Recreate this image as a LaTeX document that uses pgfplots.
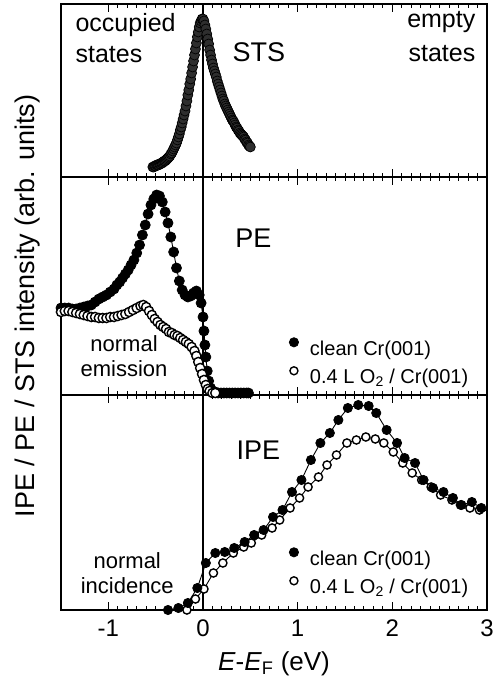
\documentclass[border=0pt]{standalone}
\usepackage{fontspec}
\setmainfont{Liberation Sans}
\usepackage{pgfplots}
\pgfplotsset{compat=1.18}
\newcommand{\fsz}[1]{\fontsize{#1}{#1}\selectfont}
\begin{document}
\begin{tikzpicture}
\pgfplotsset{
  panel/.style={
    scale only axis, width=426bp, xmin=-1.5, xmax=3, ymin=0,
    xtick={-1,0,1,2,3}, minor x tick num=9, ytick=\empty,
    tick align=inside, major tick length=8bp, minor tick length=4bp,
    axis line style={line width=1.4bp},
    tick style={black, line width=1bp},
    /pgf/number format/assume math mode=true,
    ticklabel style={font=\fsz{24bp}},
    legend cell align=left,
  },
  filled/.style={black, line width=0.9bp, mark=*, mark size=#1, mark options={fill=black, draw=black, line width=0.8bp}},
  open/.style={black, line width=0.9bp, mark=*, mark size=#1, mark options={fill=white, draw=black, line width=1.4bp}},
  zeroline/.style={black, line width=1.2bp, no marks, forget plot},
  mylegend/.style={
    legend style={draw=none, fill=none, font=\fsz{20bp}, inner sep=0pt,
      nodes={inner sep=1bp}, row sep=9bp, column sep=7bp},
    legend image code/.code={\path[draw=none] (0bp,0bp) -- (12bp,0bp); \draw[##1] plot coordinates {(4bp,6.5bp)};},
  },
}
\useasboundingbox (-61bp,-71bp) rectangle (438bp,610bp);

% ---------- bottom: IPE ----------
\begin{axis}[panel, at={(0,0)}, anchor=south west, height=215bp, ymax=215,
  xticklabels={-1,0,1,2,3},
  xticklabel style={yshift=-6bp},
  xlabel={\textit{E}-\textit{E}\textsubscript{F} (eV)},
  xlabel style={font=\fsz{26bp}, yshift=-8bp},
  mylegend, legend style={at={(axis cs:0.91,38)}, anchor=west}]
\addlegendimage{only marks, mark=*, mark size=4.6bp, mark options={fill=black, draw=black, line width=0.8bp}}
\addlegendentry{clean Cr(001)}
\addlegendimage{only marks, mark=*, mark size=4.0bp, mark options={fill=white, draw=black, line width=1.4bp}}
\addlegendentry{0.4 L O\textsubscript{2} / Cr(001)}
\addplot[zeroline] coordinates {(0,0) (0,215)};
\addplot[black, line width=0.9bp, no marks, forget plot] coordinates {(2.94,102) (3.05,96)};
\addplot[open=4.1bp, forget plot] coordinates {
(-0.17,0) (-0.08,11) (0.01,21) (0.11,37) (0.21,47) (0.32,57) (0.43,63) (0.51,67)
(0.62,75) (0.73,82) (0.81,90) (0.92,102) (1.02,112) (1.11,123) (1.22,133) (1.31,145)
(1.41,155) (1.52,167) (1.62,170) (1.72,173) (1.82,171) (1.91,167) (2.01,158) (2.11,147)
(2.21,137) (2.31,130) (2.41,123) (2.51,115) (2.63,110) (2.72,105) (2.82,102) (2.92,100)};
\addplot[filled=4.6bp, forget plot] coordinates {
(-0.37,0) (-0.26,2) (-0.16,7) (-0.06,22) (0.03,47) (0.13,57) (0.23,58) (0.33,62)
(0.44,68) (0.54,75) (0.64,80) (0.74,93) (0.84,100) (0.94,118) (1.04,130) (1.14,150)
(1.24,167) (1.34,177) (1.43,190) (1.53,202) (1.64,205) (1.75,204) (1.83,197) (1.94,180)
(2.05,167) (2.13,152) (2.24,147) (2.33,130) (2.43,122) (2.54,118) (2.64,112) (2.73,105)
(2.84,108) (2.94,102)};
\node[anchor=base west, font=\fsz{27bp}] at (axis cs:0.317,150) {IPE};
\node[anchor=base, font=\fsz{22bp}] at (axis cs:-0.80,42) {normal};
\node[anchor=base, font=\fsz{22bp}] at (axis cs:-0.80,17) {incidence};
\end{axis}

% ---------- middle: PE ----------
\begin{axis}[panel, at={(0,215bp)}, anchor=south west, height=218bp, ymax=218,
  xticklabels={},
  mylegend, legend style={at={(axis cs:0.91,33)}, anchor=west}]
\addlegendimage{only marks, mark=*, mark size=4.6bp, mark options={fill=black, draw=black, line width=0.8bp}}
\addlegendentry{clean Cr(001)}
\addlegendimage{only marks, mark=*, mark size=4.0bp, mark options={fill=white, draw=black, line width=1.4bp}}
\addlegendentry{0.4 L O\textsubscript{2} / Cr(001)}
\addplot[zeroline] coordinates {(0,0) (0,218)};
\addplot[filled=5.0bp, forget plot] coordinates {
(-1.50,87) (-1.46,87) (-1.42,87) (-1.38,86) (-1.34,86) (-1.30,87) (-1.26,88) (-1.22,89)
(-1.18,90) (-1.14,93) (-1.10,96) (-1.06,98) (-1.02,100) (-0.98,103) (-0.94,106) (-0.91,110)
(-0.88,113) (-0.85,117) (-0.82,121) (-0.79,125) (-0.76,130) (-0.73,135) (-0.70,142) (-0.67,150)
(-0.64,160) (-0.61,170) (-0.58,181) (-0.55,190) (-0.52,196) (-0.49,200) (-0.46,199) (-0.43,193)
(-0.40,183) (-0.37,172) (-0.34,158) (-0.31,143) (-0.28,127) (-0.25,114) (-0.22,105) (-0.19,100)
(-0.16,98) (-0.13,99) (-0.10,102) (-0.07,104) (-0.04,100) (-0.02,92) (0.00,78) (0.01,64)
(0.02,50) (0.03,38) (0.045,24) (0.06,14) (0.08,7) (0.10,4) (0.13,3) (0.16,2) (0.19,2)
(0.22,2) (0.25,2) (0.28,2) (0.31,2) (0.34,2) (0.37,2) (0.40,2) (0.43,2) (0.46,2) (0.48,2)};
\addplot[open=4.6bp, only marks, forget plot] coordinates {
(-1.50,83) (-1.46,84) (-1.42,84) (-1.38,83) (-1.34,82) (-1.30,81) (-1.26,80) (-1.22,79)
(-1.18,78) (-1.14,78) (-1.10,77) (-1.06,77) (-1.02,77) (-0.98,78) (-0.94,78) (-0.90,79)
(-0.86,80) (-0.82,81) (-0.78,83) (-0.74,85) (-0.70,87) (-0.66,89) (-0.63,90) (-0.60,88)
(-0.57,84) (-0.54,80) (-0.51,76) (-0.48,73) (-0.45,70) (-0.42,68) (-0.39,66) (-0.36,63)
(-0.33,62) (-0.30,60) (-0.27,59) (-0.24,57) (-0.21,55) (-0.18,53) (-0.15,51) (-0.12,48)
(-0.09,44) (-0.07,39) (-0.05,33) (-0.03,27) (-0.01,21) (0.01,15) (0.03,10) (0.05,6)
(0.07,4) (0.10,2) (0.13,2)};
\node[anchor=base west, font=\fsz{27bp}] at (axis cs:0.306,147) {PE};
\node[anchor=base, font=\fsz{22bp}] at (axis cs:-0.834,43) {normal};
\node[anchor=base, font=\fsz{22bp}] at (axis cs:-0.834,18) {emission};
\end{axis}

% ---------- top: STS ----------
\begin{axis}[panel, at={(0,433bp)}, anchor=south west, height=173bp, ymax=173,
  xticklabels={}]
\addplot[zeroline] coordinates {(0,0) (0,173)};
\addplot[only marks, mark=*, mark size=5.0bp, mark options={fill=black!82, draw=black, line width=0.7bp}] coordinates {
(-0.53,10) (-0.52,10) (-0.51,11) (-0.50,11) (-0.49,12) (-0.48,12) (-0.47,12) (-0.46,13)
(-0.45,13) (-0.44,14) (-0.43,14) (-0.42,15) (-0.41,16) (-0.40,16) (-0.39,17) (-0.38,18)
(-0.37,19) (-0.36,20) (-0.35,21) (-0.34,23) (-0.33,24) (-0.32,26) (-0.31,28) (-0.30,30)
(-0.29,32) (-0.28,34) (-0.27,37) (-0.26,40) (-0.25,43) (-0.24,47) (-0.23,50) (-0.22,54)
(-0.21,58) (-0.20,62) (-0.19,66) (-0.18,71) (-0.17,76) (-0.16,82) (-0.15,87) (-0.14,93)
(-0.13,98) (-0.12,104) (-0.11,110) (-0.10,116) (-0.09,122) (-0.08,128) (-0.07,134) (-0.06,140)
(-0.05,145) (-0.04,150) (-0.03,154) (-0.02,156) (-0.01,158) (0.00,158) (0.01,156) (0.02,152)
(0.03,148) (0.04,143) (0.05,138) (0.06,133) (0.07,127) (0.08,122) (0.09,117) (0.10,113)
(0.11,109) (0.12,106) (0.13,103) (0.14,100) (0.15,96) (0.16,93) (0.17,90) (0.18,87)
(0.19,84) (0.20,81) (0.21,78) (0.22,76) (0.23,73) (0.24,71) (0.25,69) (0.26,67)
(0.27,65) (0.28,63) (0.29,61) (0.30,59) (0.31,57) (0.32,56) (0.33,54) (0.34,52)
(0.35,50) (0.36,49) (0.37,47) (0.38,46) (0.39,44) (0.40,43) (0.41,42) (0.42,41)
(0.43,40) (0.44,38) (0.45,37) (0.46,35) (0.47,34) (0.48,32) (0.49,31) (0.50,30)};
\node[anchor=base west, font=\fsz{25bp}] at (axis cs:-1.383,145) {occupied};
\node[anchor=base west, font=\fsz{25bp}] at (axis cs:-1.383,114) {states};
\node[anchor=base east, font=\fsz{25bp}] at (axis cs:2.914,149) {empty};
\node[anchor=base east, font=\fsz{25bp}] at (axis cs:2.914,115) {states};
\node[anchor=base west, font=\fsz{27bp}] at (axis cs:0.275,115) {STS};
\end{axis}

\node[rotate=90, font=\fsz{27bp}] at (-33bp,304bp) {IPE / PE / STS intensity (arb. units)};
\end{tikzpicture}
\end{document}
